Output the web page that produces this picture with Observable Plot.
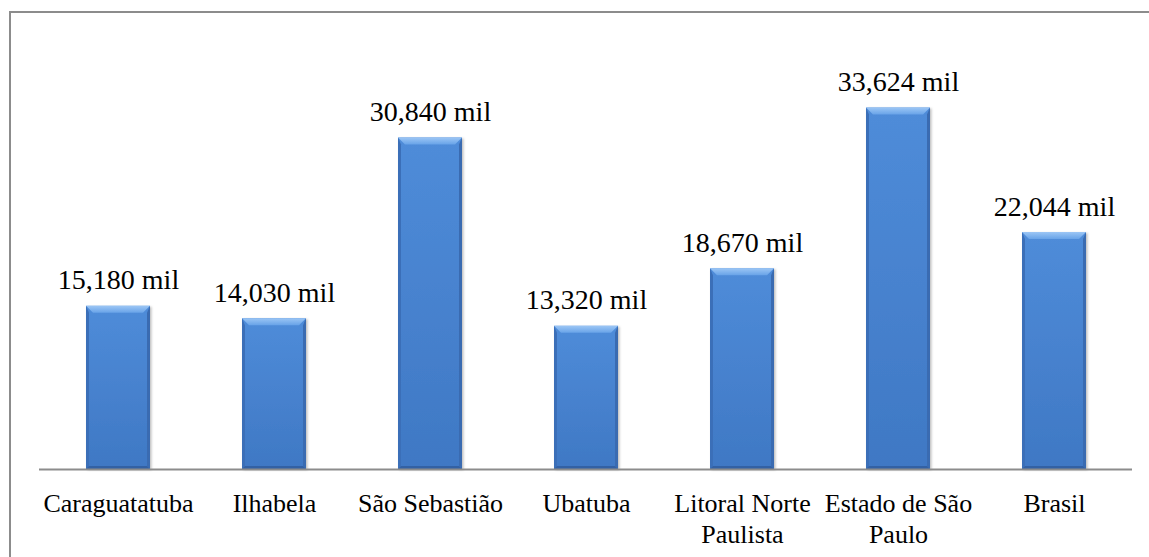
<!DOCTYPE html>
<html>
<head>
<meta charset="utf-8">
<script src="https://cdn.jsdelivr.net/npm/d3@7"></script>
<script src="https://cdn.jsdelivr.net/npm/@observablehq/plot@0.6"></script>
<style>
  html, body { margin: 0; padding: 0; background: #fff; font-family: "Liberation Serif", serif; }
  #wrap { position: relative; width: 1149px; height: 557px; overflow: hidden; color: #000; }
  #frame { position: absolute; left: 9px; top: 11px; width: 1200px; height: 600px;
           border-left: 2px solid #8c8c8c; border-top: 2px solid #8c8c8c; box-sizing: border-box; }
  #chart { position: absolute; left: 0; top: 0; }
</style>
</head>
<body>
<div id="wrap"><div id="frame"></div><div id="chart"></div></div>
<script>
const categories = ["Caraguatatuba", "Ilhabela", "São Sebastião", "Ubatuba", "Litoral Norte Paulista", "Estado de São Paulo", "Brasil"];
const tickLabels = ["Caraguatatuba", "Ilhabela", "São Sebastião", "Ubatuba", "Litoral Norte\nPaulista", "Estado de São\nPaulo", "Brasil"];
const values = [15180, 14030, 30840, 13320, 18670, 33624, 22044];

const data = categories.map((c, i) => ({cat: c, v: values[i]}));
const fmt = d3.format(",");
const FONT = "Liberation Serif";

function bevel(index, scales, vals, dims, ctx, next) {
  const g = next(index, scales, vals, dims, ctx);
  d3.select(g).selectAll("rect").each(function() {
    const r = d3.select(this);
    const x = +r.attr("x"), y = +r.attr("y"), w = +r.attr("width"), h = +r.attr("height");
    const b = 7, s = 3;
    const parent = d3.select(this.parentNode);
    r.attr("fill", "url(#gMain)").attr("filter", "url(#shadow)");
    const pts = a => a.map(p => p.join(",")).join(" ");
    parent.append("polygon").attr("points", pts([[x, y], [x + s, y + b], [x + s, y + h - s], [x, y + h]])).attr("fill", "#3b6fb8");
    parent.append("polygon").attr("points", pts([[x + w, y], [x + w - s, y + b], [x + w - s, y + h - s], [x + w, y + h]])).attr("fill", "#3a6bb1");
    parent.append("polygon").attr("points", pts([[x, y + h], [x + s, y + h - s], [x + w - s, y + h - s], [x + w, y + h]])).attr("fill", "#3361a4");
    parent.append("polygon").attr("points", pts([[x, y], [x + w, y], [x + w - b, y + b], [x + b, y + b]])).attr("fill", "url(#gTop)");
  });
  return g;
}

const svg = Plot.plot({
  width: 1149,
  height: 557,
  marginLeft: 39,
  marginRight: 17,
  marginTop: 39,
  marginBottom: 88,
  style: {background: "transparent", color: "#000", fontFamily: FONT},
  x: {domain: categories, paddingInner: 0.59, paddingOuter: 0.295, label: null},
  y: {domain: [0, 40000], axis: null},
  marks: [
    Plot.barY(data, {x: "cat", y: "v", fill: "#4a86d2", render: bevel}),
    Plot.ruleY([0], {stroke: "#8c8c8c", strokeWidth: 2}),
    Plot.text(data, {x: "cat", y: "v", text: d => fmt(d.v) + " mil", dy: -17, lineAnchor: "bottom",
                     fontSize: 28, fontFamily: FONT, fill: "#000"}),
    Plot.axisX({tickSize: 0, tickPadding: 21, fontSize: 26, fontFamily: FONT, lineHeight: 1.19, fill: "#000",
                tickFormat: d => tickLabels[categories.indexOf(d)], label: null})
  ]
});

const defs = d3.select(svg).insert("defs", ":first-child");
const gm = defs.append("linearGradient").attr("id", "gMain").attr("x1", 0).attr("y1", 0).attr("x2", 0).attr("y2", 1);
gm.append("stop").attr("offset", 0).attr("stop-color", "#4f8cd9");
gm.append("stop").attr("offset", 1).attr("stop-color", "#3f78c4");
const gt = defs.append("linearGradient").attr("id", "gTop").attr("x1", 0).attr("y1", 0).attr("x2", 0).attr("y2", 1);
gt.append("stop").attr("offset", 0).attr("stop-color", "#9cc6f5");
gt.append("stop").attr("offset", 1).attr("stop-color", "#68a3e8");
const f = defs.append("filter").attr("id", "shadow").attr("x", "-20%").attr("y", "-5%").attr("width", "140%").attr("height", "110%");
f.append("feDropShadow").attr("dx", 1.5).attr("dy", 1).attr("stdDeviation", 1.2).attr("flood-color", "#000").attr("flood-opacity", 0.25);

d3.select(svg).attr("font-family", FONT);
d3.select(svg).selectAll("g, text, tspan").attr("font-family", FONT);

document.getElementById("chart").appendChild(svg);
</script>
</body>
</html>
